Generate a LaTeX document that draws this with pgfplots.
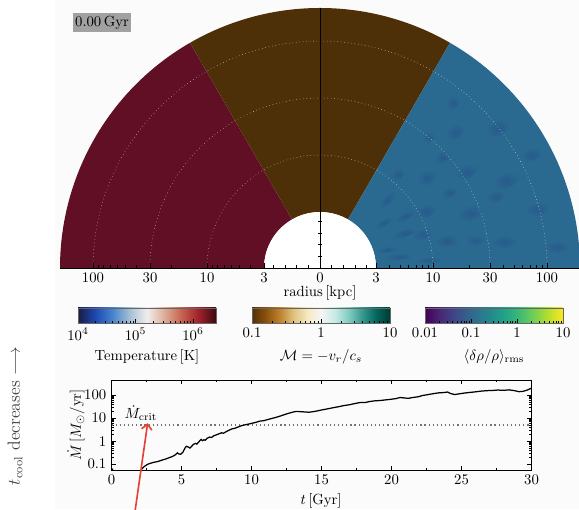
\documentclass[border=0pt]{standalone}
\usepackage{pgfplots}
\pgfplotsset{compat=1.18}
\usetikzlibrary{arrows.meta}

% sector fills
\definecolor{tred}{RGB}{96,15,37}
\definecolor{tbrown}{RGB}{78,48,8}
\definecolor{tblue}{RGB}{43,106,144}
\definecolor{tbluedark}{RGB}{36,76,140}
\definecolor{arrowred}{RGB}{232,62,52}

% balance-like temperature map
\definecolor{ba0}{RGB}{24,28,67}
\definecolor{ba1}{RGB}{30,72,180}
\definecolor{ba2}{RGB}{70,132,205}
\definecolor{ba3}{RGB}{165,192,212}
\definecolor{ba4}{RGB}{241,237,236}
\definecolor{ba5}{RGB}{222,172,152}
\definecolor{ba6}{RGB}{198,98,78}
\definecolor{ba7}{RGB}{160,32,42}
\definecolor{ba8}{RGB}{60,9,18}
% BrBG
\definecolor{br0}{RGB}{84,48,5}
\definecolor{br1}{RGB}{140,81,10}
\definecolor{br2}{RGB}{191,129,45}
\definecolor{br3}{RGB}{223,194,125}
\definecolor{br4}{RGB}{246,232,195}
\definecolor{br5}{RGB}{245,245,245}
\definecolor{br6}{RGB}{199,234,229}
\definecolor{br7}{RGB}{128,205,193}
\definecolor{br8}{RGB}{53,151,143}
\definecolor{br9}{RGB}{1,102,94}
\definecolor{br10}{RGB}{0,60,48}
% viridis
\definecolor{vi0}{RGB}{68,1,84}
\definecolor{vi1}{RGB}{72,40,120}
\definecolor{vi2}{RGB}{62,74,137}
\definecolor{vi3}{RGB}{49,104,142}
\definecolor{vi4}{RGB}{38,130,142}
\definecolor{vi5}{RGB}{31,158,137}
\definecolor{vi6}{RGB}{53,183,121}
\definecolor{vi7}{RGB}{109,205,89}
\definecolor{vi8}{RGB}{180,222,44}
\definecolor{vi9}{RGB}{253,231,37}

\pgfdeclarehorizontalshading{cmbalance}{100bp}{color(0bp)=(ba0); color(25bp)=(ba0);
  color(31.25bp)=(ba1); color(37.5bp)=(ba2); color(43.75bp)=(ba3); color(50bp)=(ba4);
  color(56.25bp)=(ba5); color(62.5bp)=(ba6); color(68.75bp)=(ba7); color(75bp)=(ba8); color(100bp)=(ba8)}
\pgfdeclarehorizontalshading{cmbrbg}{100bp}{color(0bp)=(br0); color(25bp)=(br0);
  color(30bp)=(br1); color(35bp)=(br2); color(40bp)=(br3); color(45bp)=(br4); color(50bp)=(br5);
  color(55bp)=(br6); color(60bp)=(br7); color(65bp)=(br8); color(70bp)=(br9); color(75bp)=(br10); color(100bp)=(br10)}
\pgfdeclarehorizontalshading{cmviridis}{100bp}{color(0bp)=(vi0); color(25bp)=(vi0);
  color(30.56bp)=(vi1); color(36.11bp)=(vi2); color(41.67bp)=(vi3); color(47.22bp)=(vi4);
  color(52.78bp)=(vi5); color(58.33bp)=(vi6); color(63.89bp)=(vi7); color(69.44bp)=(vi8); color(75bp)=(vi9); color(100bp)=(vi9)}

% annular sector between inner and outer radius, angles #2..#3
\newcommand\sector[3]{%
  \fill[#1] ([shift={(#2:38.08pt)}]axis cs:0,0) -- ([shift={(#2:176.8pt)}]axis cs:0,0)
    arc[start angle=#2, end angle=#3, radius=176.8pt]
    -- ([shift={(#3:38.08pt)}]axis cs:0,0)
    arc[start angle=#3, end angle=#2, radius=38.08pt] -- cycle;}
% soft density patch: angle, radius, radial and tangential half-size (all in px)
\newcommand\blob[4]{%
  \shade[inner color=tbluedark, outer color=tblue, rotate=#1, opacity=0.5]
    ({#2*0.68pt},0pt) ellipse [x radius={#3*0.68pt}, y radius={#4*0.68pt}];}

\pgfplotsset{
  cbar/.style={anchor=south west, scale only axis, width=93.84pt, height=10.2pt,
    ymin=0, ymax=1, ytick=\empty, xtick pos=bottom, tick align=inside,
    axis on top, axis line style={black!60, line width=0.5pt},
    major tick length=3pt, minor tick length=1.6pt, tick style={black, line width=0.4pt}},
}

\begin{document}
\begin{tikzpicture}[x=0.68pt,y=0.68pt]
\useasboundingbox (0,0) rectangle (579,509);
\fill[black!1.5] (55,0) rectangle (579,509);

% ---- half-disk panel ----
\begin{axis}[at={(40.8pt,163.88pt)}, anchor=south west, scale only axis,
  width=353.6pt, height=176.8pt, xmin=-260, xmax=260, ymin=0, ymax=260,
  axis x line*=bottom, axis y line=none, axis on top, clip=false,
  axis line style={black, line width=0.6pt},
  xtick={-227,-170,-113,-56,0,56,113,170,227},
  xticklabels={100,30,10,3,0,3,10,30,100},
  minor xtick={-222.0,-216.4,-210.1,-202.8,-194.2,-183.6,-149.0,-108.0,-102.4,-96.1,-88.8,-80.2,-69.6,-46.8,-35.1,-23.4,-11.7,
               11.7,23.4,35.1,46.8,69.6,80.2,88.8,96.1,102.4,108.0,149.0,183.6,194.2,202.8,210.1,216.4,222.0},
  tick align=inside, major tick length=3.5pt, minor tick length=2pt,
  tick style={black, line width=0.45pt}]
  \sector{tred}{120}{180}
  \sector{tbrown}{60}{120}
  \sector{tblue}{0}{60}
  \begin{scope}[shift={(axis cs:0,0)}]
    \blob{8}{80}{14}{3}  \blob{15}{70}{12}{2.6}  \blob{22}{92}{16}{3.2}
    \blob{35}{78}{13}{2.8} \blob{45}{96}{14}{3}  \blob{28}{120}{12}{6}
    \blob{12}{130}{12}{6}  \blob{40}{140}{11}{6}   \blob{50}{122}{9}{5}
    \blob{20}{160}{13}{7} \blob{33}{176}{12}{6}  \blob{8}{186}{13}{6}
    \blob{45}{192}{12}{6}  \blob{25}{206}{14}{7}   \blob{15}{226}{12}{6}
    \blob{38}{226}{13}{7} \blob{51}{212}{9}{5}  \blob{5}{238}{12}{6}
    \blob{28}{240}{11}{5.5} \blob{18}{108}{10}{5} \blob{42}{165}{10}{5}
    \blob{30}{150}{9}{4.5}  \blob{10}{158}{10}{5} \blob{50}{170}{8}{4}
    \blob{22}{190}{10}{5} \blob{4}{110}{13}{3} \blob{31}{100}{14}{2.8}
  \end{scope}
  \fill[white] ([shift={(0:38.08pt)}]axis cs:0,0) arc[start angle=0, end angle=180, radius=38.08pt] -- cycle;
  \pgfplotsinvokeforeach{76.84pt,115.6pt,154.36pt}{%
    \draw[white!75!gray, dotted, line width=0.35pt] ([shift={(0:#1)}]axis cs:0,0) arc[start angle=0, end angle=180, radius=#1];}
  \draw[black, line width=0.6pt] (axis cs:0,0) -- (axis cs:0,260);
  \pgfplotsinvokeforeach{11.7,23.4,35.1,46.8}{%
    \draw[black, line width=0.4pt] (axis cs:-2.2,#1) -- (axis cs:2.2,#1);}
\end{axis}

\node[fill=black!37, inner sep=1.6pt] at (102,486.5) {0.00\,Gyr};
\node at (320,216) {radius\,[kpc]};

% ---- colour bars ----
\begin{axis}[cbar, xmode=log, at={(53.04pt,126.48pt)}, xmin=1e4, xmax=2.512e6, xtick={1e4,1e5,1e6}]
  \shade[shading=cmbalance] (rel axis cs:0,0) rectangle (rel axis cs:1,1);
\end{axis}
\begin{axis}[cbar, xmode=log, at={(171.36pt,126.48pt)}, xmin=0.1, xmax=10, xtick={0.1,1,10}, xticklabels={0.1,1,10}]
  \shade[shading=cmbrbg] (rel axis cs:0,0) rectangle (rel axis cs:1,1);
\end{axis}
\begin{axis}[cbar, xmode=log, at={(289pt,126.48pt)}, xmin=0.01, xmax=10, xtick={0.01,0.1,1,10}, xticklabels={0.01,0.1,1,10}]
  \shade[shading=cmviridis] (rel axis cs:0,0) rectangle (rel axis cs:1,1);
\end{axis}
\node at (147,152) {Temperature\,[K]};
\node at (321,152) {$\mathcal{M} = -v_r/c_s$};
\node at (494,152) {$\langle \delta\rho/\rho\rangle_{\rm rms}$};

% ---- accretion-rate history ----
\begin{axis}[at={(75.82pt,26.52pt)}, anchor=south west, scale only axis,
  width=285.6pt, height=61.2pt, xmin=0, xmax=30, ymode=log, ymin=0.056, ymax=450,
  xtick={0,5,...,30}, minor x tick num=1,
  ytick={0.1,1,10,100}, yticklabels={0.1,1,10,100},
  tick align=inside, major tick length=3pt, minor tick length=1.6pt,
  axis line style={black, line width=0.5pt}, tick style={black, line width=0.4pt},
  clip=false]
  \addplot[black!55, dotted, line width=0.8pt] coordinates {(0,5) (30,5)};
  \addplot[black, line width=0.85pt] coordinates {(0.0,0.062) (0.12,0.06)};
  \addplot[black, line width=0.85pt] coordinates {
    (2.08,0.056) (2.2,0.066) (2.4,0.085) (2.6,0.1) (2.8,0.11) (3.0,0.12) (3.3,0.13)
    (3.6,0.15) (3.9,0.17) (4.1,0.19) (4.3,0.21) (4.5,0.24) (4.6,0.27) (4.7,0.31)
    (4.8,0.28) (4.95,0.27) (5.1,0.33) (5.25,0.5) (5.35,0.6) (5.5,0.55) (5.6,0.5)
    (5.7,0.58) (5.85,0.72) (6.0,0.8) (6.1,0.75) (6.25,0.95) (6.4,1.2) (6.5,1.05)
    (6.6,1.15) (6.7,1.1) (6.85,1.35) (7.0,1.5) (7.15,1.45) (7.3,1.7) (7.5,1.9)
    (7.7,2.1) (7.85,2.3) (8.0,2.2) (8.2,2.6) (8.4,3.0) (8.6,3.4) (8.8,3.6) (9.0,4.0)
    (9.2,4.5) (9.4,4.9) (9.6,5.2) (9.8,5.5) (10.0,5.9) (10.3,6.5) (10.6,7.4)
    (10.9,7.8) (11.2,8.8) (11.5,9.8) (11.8,11) (12.1,12.5) (12.4,14.5) (12.7,16.5)
    (13.0,18.5) (13.2,19.5) (13.5,19) (13.8,18.5) (14.1,18) (14.4,19) (14.7,20.5)
    (15.0,22.5) (15.4,25) (15.8,28) (16.2,31) (16.6,35) (17.0,38) (17.4,43)
    (17.8,48) (18.1,47) (18.4,52) (18.8,56) (19.2,58) (19.6,62) (20.0,66) (20.3,70)
    (20.6,78) (20.9,75) (21.2,72) (21.5,78) (21.9,84) (22.2,95) (22.5,102)
    (22.8,110) (23.1,118) (23.4,125) (23.7,128) (24.0,135) (24.2,118) (24.5,105)
    (24.8,112) (25.2,122) (25.6,130) (26.0,138) (26.4,148) (26.8,155) (27.2,158)
    (27.6,165) (28.0,160) (28.4,168) (28.8,155) (29.1,140) (29.4,145) (29.7,165)
    (30.0,200)};
  \node[inner sep=1pt] at (axis cs:2.1,16.5) {$\dot M_{\rm crit}$};
  \draw[arrowred, line width=1.1pt, -{Straight Barb[length=3.5pt,width=7pt]}]
    (axis cs:1.68,0.0009) -- (axis cs:2.58,6);
\end{axis}
\node[rotate=90] at (76,84) {$\dot M\,[M_\odot/{\rm yr}]$};
\node at (321,8) {$t\,[{\rm Gyr}]$};

\node[rotate=90, font=\large, text=black!75] at (15,93) {$t_{\rm cool}$ decreases $\longrightarrow$};
\end{tikzpicture}
\end{document}
